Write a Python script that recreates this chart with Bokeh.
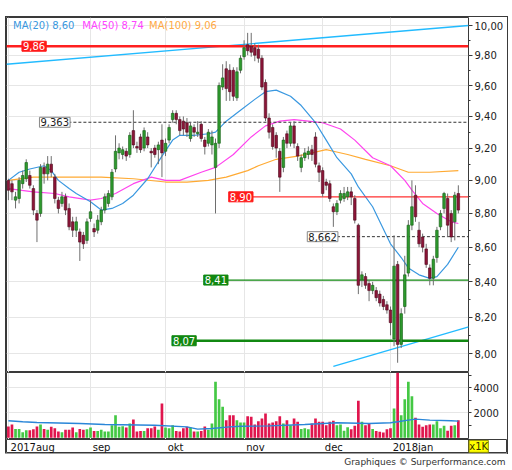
import numpy as np
import pandas as pd
from bokeh.plotting import figure
from bokeh.models import (Range1d, FixedTicker, CustomJSTickFormatter, Label,
                          ColumnDataSource, Spacer)
from bokeh.layouts import column, row
from bokeh.embed import file_html
from bokeh.resources import INLINE
from bokeh.core.properties import value

FONT = "DejaVu Sans"

# ---------------- data ----------------
dates = pd.bdate_range("2017-07-31", "2018-01-26")
dates = dates[~dates.isin(pd.to_datetime(["2017-12-25", "2017-12-26", "2018-01-01"]))]

opens = [9.00, 8.98, 8.88, 8.89, 8.98, 9.01, 9.03, 8.95, 8.80, 8.80,
         9.08, 9.04, 9.10, 9.02, 8.88, 8.86, 8.90, 8.83, 8.75, 8.70,
         8.69, 8.67, 8.64, 8.77, 8.71, 8.70, 8.75, 8.82, 8.86, 8.90,
         9.07, 9.17, 9.16, 9.18, 9.16, 9.31, 9.21, 9.27, 9.20, 9.27,
         9.18, 9.20, 9.19, 9.25, 9.18, 9.25, 9.38, 9.42, 9.38, 9.37,
         9.36, 9.26, 9.33, 9.29, 9.35, 9.25, 9.23, 9.22, 9.08, 9.23,
         9.59, 9.71, 9.70, 9.70, 9.52, 9.70, 9.79, 9.87, 9.86, 9.85,
         9.84, 9.78, 9.62, 9.39, 9.33, 9.28, 9.18, 9.08, 9.29, 9.23,
         9.34, 9.21, 9.08, 9.14, 9.16, 9.19, 9.27, 9.09, 9.06, 8.99,
         8.98, 8.84, 8.81, 8.88, 8.89, 8.90, 8.93, 8.89, 8.73, 8.41,
         8.43, 8.39, 8.35, 8.35, 8.33, 8.30, 8.27, 8.24, 8.08, 8.50,
         8.05, 8.26, 8.45, 8.73, 8.91, 8.70, 8.66, 8.59, 8.48, 8.42,
         8.54, 8.72, 8.83, 8.89, 8.80, 8.75, 8.92]
highs = [9.01, 9.00, 8.93, 9.02, 9.06, 9.13, 9.06, 8.97, 8.82, 9.10,
         9.11, 9.15, 9.15, 9.04, 8.90, 8.93, 8.92, 8.86, 8.78, 8.78,
         8.71, 8.69, 8.77, 8.88, 8.74, 8.79, 8.84, 8.92, 8.94, 9.07,
         9.28, 9.23, 9.21, 9.20, 9.30, 9.44, 9.24, 9.29, 9.33, 9.30,
         9.20, 9.22, 9.24, 9.35, 9.26, 9.35, 9.44, 9.44, 9.40, 9.40,
         9.39, 9.36, 9.35, 9.37, 9.37, 9.27, 9.32, 9.31, 9.26, 9.62,
         9.74, 9.76, 9.74, 9.72, 9.72, 9.80, 9.90, 9.95, 9.95, 9.88,
         9.87, 9.80, 9.64, 9.42, 9.35, 9.30, 9.20, 9.27, 9.31, 9.36,
         9.37, 9.23, 9.16, 9.20, 9.21, 9.22, 9.30, 9.11, 9.08, 9.01,
         9.00, 8.86, 8.88, 8.94, 8.96, 8.96, 8.96, 8.91, 8.74, 8.46,
         8.45, 8.41, 8.40, 8.37, 8.35, 8.32, 8.29, 8.26, 8.67, 8.52,
         8.25, 8.55, 8.76, 9.00, 8.97, 8.75, 8.68, 8.62, 8.50, 8.55,
         8.72, 8.82, 8.93, 8.92, 8.82, 8.93, 8.97]
lows = [8.88, 8.88, 8.83, 8.86, 8.95, 8.99, 8.95, 8.79, 8.63, 8.78,
        8.98, 9.00, 9.02, 8.86, 8.80, 8.84, 8.79, 8.70, 8.66, 8.66,
        8.52, 8.59, 8.62, 8.75, 8.66, 8.68, 8.73, 8.80, 8.84, 8.88,
        9.05, 9.13, 9.13, 9.12, 9.14, 9.20, 9.17, 9.17, 9.18, 9.20,
        9.08, 9.14, 9.10, 9.02, 9.15, 9.23, 9.36, 9.35, 9.28, 9.28,
        9.27, 9.24, 9.27, 9.27, 9.24, 9.16, 9.21, 9.16, 8.80, 9.20,
        9.57, 9.50, 9.50, 9.50, 9.50, 9.68, 9.77, 9.80, 9.79, 9.76,
        9.75, 9.57, 9.37, 9.26, 9.19, 9.14, 8.93, 9.05, 9.20, 9.21,
        9.20, 9.12, 9.05, 9.12, 9.13, 9.12, 9.08, 8.99, 8.90, 8.94,
        8.87, 8.72, 8.79, 8.86, 8.87, 8.88, 8.85, 8.74, 8.33, 8.37,
        8.36, 8.29, 8.33, 8.29, 8.26, 8.24, 8.22, 8.10, 8.04, 7.95,
        8.03, 8.22, 8.43, 8.70, 8.75, 8.60, 8.57, 8.48, 8.38, 8.38,
        8.51, 8.70, 8.80, 8.66, 8.63, 8.64, 8.80]
closes = [8.94, 8.93, 8.90, 9.00, 9.03, 9.11, 8.97, 8.82, 8.76, 9.08,
          9.04, 9.10, 9.05, 8.89, 8.83, 8.90, 8.82, 8.72, 8.70, 8.75,
          8.63, 8.62, 8.75, 8.81, 8.69, 8.76, 8.82, 8.90, 8.92, 9.05,
          9.18, 9.20, 9.19, 9.15, 9.28, 9.22, 9.20, 9.19, 9.31, 9.22,
          9.17, 9.16, 9.22, 9.17, 9.23, 9.33, 9.42, 9.38, 9.31, 9.32,
          9.30, 9.34, 9.30, 9.30, 9.26, 9.21, 9.30, 9.27, 9.23, 9.60,
          9.65, 9.58, 9.56, 9.53, 9.69, 9.78, 9.85, 9.83, 9.82, 9.80,
          9.78, 9.59, 9.39, 9.30, 9.21, 9.20, 9.02, 9.25, 9.23, 9.34,
          9.23, 9.15, 9.14, 9.17, 9.18, 9.16, 9.10, 9.05, 8.92, 8.97,
          8.89, 8.81, 8.86, 8.92, 8.92, 8.93, 8.90, 8.76, 8.38, 8.44,
          8.38, 8.35, 8.38, 8.31, 8.28, 8.26, 8.24, 8.17, 8.49, 8.05,
          8.22, 8.44, 8.73, 8.84, 8.78, 8.62, 8.60, 8.50, 8.42, 8.53,
          8.70, 8.80, 8.92, 8.73, 8.66, 8.91, 8.82]
volumes = [900, 1060, 700, 700, 440, 600, 600, 680, 900, 1060,
           700, 640, 880, 770, 500, 440, 640, 640, 820, 440,
           700, 640, 680, 820, 540, 540, 650, 500, 500, 1010,
           1810, 880, 930, 820, 1140, 1460, 500, 540, 540, 770,
           770, 900, 640, 2740, 820, 770, 1010, 540, 500, 770,
           880, 820, 500, 500, 540, 900, 640, 1140, 4480, 3090,
           2480, 1410, 1810, 1810, 1410, 1220, 1220, 1730, 1680, 1060,
           1330, 1540, 1940, 1140, 1220, 1330, 1730, 1140, 1410, 1010,
           1540, 1280, 700, 770, 690, 1140, 1540, 1280, 1280, 1010,
           1280, 1360, 1010, 1060, 560, 850, 690, 960, 2960, 1280,
           1010, 1140, 700, 540, 490, 430, 690, 770, 2350, 5280,
           1810, 3090, 4480, 3330, 1600, 1060, 880, 1010, 1060, 1060,
           1330, 770, 960, 560, 960, 1010, 1410]

# moving averages (trading-day index, value)
ma20_k = [0, 3, 6, 10, 12, 14, 17, 19, 23, 26, 29, 32, 35, 39, 43, 46, 48, 52, 56, 58, 61,
          65, 69, 72, 75, 79, 82, 86, 89, 92, 96, 98, 102, 107, 110, 112, 115, 118, 120, 123, 126]
ma20_v = [9.00, 9.05, 9.07, 9.09, 9.06, 9.00, 8.95, 8.92, 8.87, 8.82, 8.83, 8.86, 8.91, 9.01,
          9.15, 9.25, 9.28, 9.28, 9.29, 9.30, 9.37, 9.44, 9.51, 9.56, 9.57, 9.53, 9.47, 9.36,
          9.25, 9.14, 9.04, 8.96, 8.84, 8.62, 8.54, 8.48, 8.44, 8.42, 8.43, 8.50, 8.60]
ma50_k = [0, 7, 13, 17, 23, 26, 30, 35, 40, 44, 48, 54, 58, 63, 68, 72, 76, 80, 84, 88, 93,
          97, 102, 107, 111, 113, 116, 120, 124, 126]
ma50_v = [8.95, 8.93, 8.92, 8.90, 8.88, 8.89, 8.92, 8.98, 9.02, 9.00, 9.00, 9.05, 9.08, 9.16,
          9.27, 9.34, 9.37, 9.38, 9.37, 9.36, 9.32, 9.25, 9.14, 9.09, 9.00, 8.94, 8.86, 8.80,
          8.75, 8.74]
ma100_k = [0, 7, 16, 26, 35, 44, 50, 56, 61, 67, 70, 75, 81, 85, 89, 91, 95, 100, 107, 112,
           118, 126]
ma100_v = [9.00, 9.02, 9.02, 9.02, 9.01, 8.99, 8.99, 9.00, 9.02, 9.06, 9.09, 9.13, 9.15, 9.17,
           9.19, 9.18, 9.16, 9.13, 9.09, 9.05, 9.05, 9.06]
volma_k = [0, 4, 8, 20, 27, 41, 50, 53, 57, 62, 65, 73, 83, 92, 101, 107, 109, 112, 114, 118,
           124, 126]
volma_v = [1360, 1280, 1220, 1140, 1060, 1000, 870, 690, 740, 870, 920, 950, 1060, 1200, 1140,
           1200, 1280, 1410, 1490, 1410, 1360, 1330]

# trend lines (index, price)
trend1_k = [-0.55, 128.9]
trend1_v = [9.74, 10.00]
trend2_k = [91.0, 128.9]
trend2_v = [7.93, 8.146]

# horizontal levels
level_vals = [9.86, 9.363, 8.90, 8.662, 8.41, 8.07]
level_dec = [2, 3, 2, 3, 2, 2]
level_label_k = [3.8, 8.7, 61.7, 83.7, 54.7, 45.8]
level_start_k = [-0.55, 16.8, 68.0, 92.0, 61.0, 52.4]

price_ticks = [8.0, 8.2, 8.4, 8.6, 8.8, 9.0, 9.2, 9.4, 9.6, 9.8, 10.0]
price_minor = [8.1, 8.3, 8.5, 8.7, 8.9, 9.1, 9.3, 9.5, 9.7, 9.9]
vol_ticks = [2000, 4000]
vol_minor = [1000, 3000, 5000]
month_labels = ["2017aug", "sep", "okt", "nov", "dec", "2018jan"]
unit_label = "x1K"
footer_text = "Graphiques \u00a9 Surperformance.com"

# ---------------- derived ----------------
n = len(dates)
x = np.arange(n)
o = np.array(opens); c = np.array(closes)
up = c >= o
src = ColumnDataSource(dict(
    x=x, high=highs, low=lows,
    top=np.maximum(o, c), bottom=np.minimum(o, c),
    fill=np.where(up, "#2e9a2e", "#8c1538"),
    edge=np.where(up, "#145c14", "#4d0a1c"),
    vol=volumes, vcol=np.where(up, "#44c844", "#e0154d"),
))
mvals = dates.month.values
month_ticks = [0] + [int(i) - 1 for i in range(2, n) if mvals[i] != mvals[i - 1]]

FW = 462          # plot frame width (px)
RB = 39           # right axis area (px)
PX_PER_DAY = 3.571
X0 = -0.53
x_range = Range1d(X0, X0 + FW / PX_PER_DAY)
GRID = "#e6e6e6"
EDGE = "#3a3a3a"
comma2 = CustomJSTickFormatter(code="return tick.toFixed(2).replace('.', ',');")


def base(fig):
    fig.outline_line_color = EDGE
    fig.outline_line_width = 1
    fig.background_fill_color = "white"
    fig.border_fill_color = "white"


def style_axis(a, tick_out, minor_out):
    a.axis_line_color = None
    a.major_tick_out = tick_out; a.major_tick_in = 0
    a.minor_tick_out = minor_out; a.minor_tick_in = 0
    a.major_tick_line_color = EDGE; a.minor_tick_line_color = EDGE
    a.major_label_text_font = FONT
    a.major_label_text_font_size = "10px"
    a.major_label_text_color = "#222222"
    a.major_label_standoff = 2


# ---------------- price panel ----------------
p = figure(frame_width=FW, frame_height=355, x_range=x_range,
           y_range=Range1d(7.8975, 10.0546), y_axis_type="log",
           y_axis_location="right", x_axis_location=None,
           toolbar_location=None, output_backend="svg",
           min_border_left=0, min_border_right=RB, min_border_top=0, min_border_bottom=0)
base(p)
ax = p.yaxis[0]
ax.ticker = FixedTicker(ticks=price_ticks, minor_ticks=price_minor)
ax.formatter = comma2
style_axis(ax, 4, 2)
p.ygrid.ticker = FixedTicker(ticks=price_ticks)
p.xgrid.ticker = FixedTicker(ticks=month_ticks)
p.ygrid.grid_line_color = GRID
p.xgrid.grid_line_color = GRID

p.line(ma100_k, ma100_v, line_color="#ffaa33", line_width=1.2)
p.line(ma50_k, ma50_v, line_color="#ff44ee", line_width=1.2)
p.line(ma20_k, ma20_v, line_color="#3a98e0", line_width=1.2)
p.line(trend1_k, trend1_v, line_color="#22bbff", line_width=1.3)
p.line(trend2_k, trend2_v, line_color="#22bbff", line_width=1.3)

end_k = x_range.end
p.segment(x0=[level_start_k[0]], y0=[level_vals[0]], x1=[end_k], y1=[level_vals[0]],
          line_color="#ff1f1f", line_width=2.5)
p.segment(x0=[level_start_k[2]], y0=[level_vals[2]], x1=[end_k], y1=[level_vals[2]],
          line_color="#ff3030", line_width=1.2)
p.segment(x0=[level_start_k[1], level_start_k[3]], y0=[level_vals[1], level_vals[3]],
          x1=[end_k, end_k], y1=[level_vals[1], level_vals[3]],
          line_color="#333333", line_width=1, line_dash="3 2")
p.segment(x0=[level_start_k[4]], y0=[level_vals[4]], x1=[end_k], y1=[level_vals[4]],
          line_color="#118811", line_width=1.2)
p.segment(x0=[level_start_k[5]], y0=[level_vals[5]], x1=[end_k], y1=[level_vals[5]],
          line_color="#118811", line_width=2.5)

p.segment(x0="x", y0="low", x1="x", y1="high", source=src, line_color="#6e6e6e", line_width=1)
p.vbar(x="x", width=0.72, top="top", bottom="bottom", fill_color="fill",
       line_color="edge", line_width=0.6, source=src)

styles_lbl = [("#ff1a1a", "#ff1a1a", "white"), ("white", "#888888", "#222222"),
              ("#ff1a1a", "#ff1a1a", "white"), ("white", "#888888", "#222222"),
              ("#118811", "#118811", "white"), ("#118811", "#118811", "white")]
for v, d, k, (bg, bd, tc) in zip(level_vals, level_dec, level_label_k, styles_lbl):
    p.add_layout(Label(x=k, y=v, text=f"{v:.{d}f}".replace(".", ","),
                       text_font=FONT, text_font_size="10px", text_color=tc,
                       text_baseline="middle", text_align="left",
                       background_fill_color=bg, border_line_color=bd, padding=1))

leg = [("MA(20)", ma20_v[-1], "#3a98e0", 1.3), ("MA(50)", ma50_v[-1], "#ff44ff", 20.7),
       ("MA(100)", ma100_v[-1], "#ffaa44", 39.4)]
for name, val, col, k in leg:
    p.add_layout(Label(x=k, y=10.0, text=f"{name} {val:.2f}".replace(".", ","),
                       text_font=FONT, text_font_size="10px", text_color=col,
                       text_baseline="middle", text_align="left"))

# ---------------- volume panel ----------------
pv = figure(frame_width=FW, frame_height=67, x_range=x_range, y_range=Range1d(-136, 5224),
            y_axis_location="right", x_axis_location=None,
            toolbar_location=None, output_backend="svg",
            min_border_left=0, min_border_right=RB, min_border_top=0, min_border_bottom=0)
base(pv)
vax = pv.yaxis[0]
vax.ticker = FixedTicker(ticks=vol_ticks, minor_ticks=vol_minor)
style_axis(vax, 3, 3)
pv.ygrid.ticker = FixedTicker(ticks=vol_ticks)
pv.xgrid.ticker = FixedTicker(ticks=month_ticks)
pv.ygrid.grid_line_color = GRID
pv.xgrid.grid_line_color = GRID
pv.vbar(x="x", width=0.75, top="vol", bottom=0, fill_color="vcol", line_color=None, source=src)
pv.line(volma_k, volma_v, line_color="#2a86d8", line_width=1.4)

# ---------------- date strip (spans plot + axis area) ----------------
FULL = FW + RB
strip_range = Range1d(X0, X0 + FULL / PX_PER_DAY)
pdt = figure(frame_width=FULL, frame_height=14, x_range=strip_range, y_range=Range1d(0, 1),
             x_axis_location=None, y_axis_location=None,
             toolbar_location=None, output_backend="svg",
             min_border_left=0, min_border_right=0, min_border_top=0, min_border_bottom=0)
base(pdt)
pdt.grid.visible = False
pdt.segment(x0=[end_k], y0=[0], x1=[end_k], y1=[1], line_color=EDGE, line_width=1)
pdt.text(x=[t + 0.6 for t in month_ticks], y=[0.45] * len(month_ticks), text=month_labels,
         text_font=value(FONT), text_font_size="10px", text_color="#111111",
         text_align="left", text_baseline="middle")
ux0 = end_k + 0.15
ux1 = ux0 + 5.4
pdt.quad(left=[ux0], right=[ux1], bottom=[0.08], top=[0.94],
         fill_color="#ffff00", line_color="#8a8a00", line_width=1)
pdt.text(x=[(ux0 + ux1) / 2], y=[0.5], text=[unit_label], text_font=value(FONT),
         text_font_size="10px", text_color="#333300", text_align="center", text_baseline="middle")

# ---------------- footer ----------------
FOOT_W = 507
pf = figure(frame_width=FOOT_W, frame_height=16, x_range=Range1d(0, FOOT_W), y_range=Range1d(0, 1),
            x_axis_location=None, y_axis_location=None,
            toolbar_location=None, output_backend="svg",
            min_border_left=0, min_border_right=0, min_border_top=0, min_border_bottom=0)
pf.outline_line_color = None
pf.grid.visible = False
pf.text(x=[FOOT_W - 2], y=[0.5], text=[footer_text],
        text_font=value(FONT), text_font_size="9px", text_color="#333333",
        text_align="right", text_baseline="middle")

inner = column(p, pv, pdt, spacing=0, styles={"outline": "1px solid #3a3a3a"})
layout = column(Spacer(width=FOOT_W, height=17), row(Spacer(width=6, height=10), inner, spacing=0),
                pf, spacing=0)

open("out.html", "w").write(file_html(layout, INLINE))
